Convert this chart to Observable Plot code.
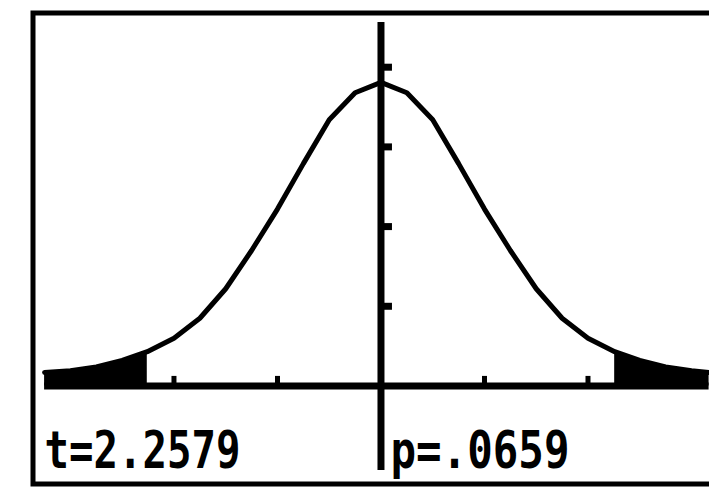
<!DOCTYPE html>
<html>
<head>
<meta charset="utf-8">
<script src="https://cdn.jsdelivr.net/npm/d3@7"></script>
<script src="https://cdn.jsdelivr.net/npm/@observablehq/plot@0.6"></script>
<style>
  html, body { margin: 0; padding: 0; background: #fff; }
  #chart svg { display: block; }
</style>
</head>
<body>
<div id="chart"></div>
<script>
// Calculator window
const windowX = [-3.25, 3.17];
const windowY = [-0.106, 0.456];

// t-distribution curve
const tValues = [-3.25, -3.0, -2.75, -2.5, -2.2579, -2.0, -1.75, -1.5, -1.25, -1.0, -0.75, -0.5, -0.25, 0,
                 0.25, 0.5, 0.75, 1.0, 1.25, 1.5, 1.75, 2.0, 2.2579, 2.5, 2.75, 3.0, 3.17];
const density = [0.017, 0.019, 0.024, 0.032, 0.043, 0.060, 0.085, 0.122, 0.170, 0.222, 0.279, 0.334, 0.368, 0.381,
                 0.368, 0.334, 0.279, 0.222, 0.170, 0.122, 0.085, 0.060, 0.043, 0.032, 0.024, 0.019, 0.017];

const tStat = 2.2579;
const xTicks = [-2, -1, 1, 2];
const yTicks = [0.1, 0.2, 0.3, 0.4];
const labels = ["t=2.2579", "p=.0659"];

const curve = tValues.map((t, i) => ({t, d: density[i]}));
const leftTail = curve.filter(p => p.t <= -tStat);
const rightTail = curve.filter(p => p.t >= tStat);

const chart = Plot.plot({
  width: 709,
  height: 487,
  margin: 0,
  x: {domain: [-3.676, 3.174], axis: null},
  y: {domain: [-0.1274, 0.4837], axis: null},
  marks: [
    Plot.frame({stroke: "#000", strokeWidth: 5, insetLeft: 32.5, insetTop: 12.5, insetBottom: 3.5, insetRight: -10}),
    Plot.areaY(leftTail, {x: "t", y1: 0, y2: "d", fill: "#000"}),
    Plot.areaY(rightTail, {x: "t", y1: 0, y2: "d", fill: "#000"}),
    Plot.line(curve, {x: "t", y: "d", stroke: "#000", strokeWidth: 5, strokeLinejoin: "miter"}),
    Plot.ruleY([0], {x1: windowX[0], x2: windowX[1], stroke: "#000", strokeWidth: 7}),
    Plot.ruleX([0], {y1: windowY[0], y2: windowY[1], stroke: "#000", strokeWidth: 7}),
    Plot.ruleX(xTicks, {y1: 0, y2: 0.012, stroke: "#000", strokeWidth: 5}),
    Plot.ruleY(yTicks, {x1: 0, x2: 0.111, stroke: "#000", strokeWidth: 7}),
    Plot.text([labels[0]], {x: windowX[0], y: -0.0822, text: d => d, textAnchor: "start",
      fontFamily: "DejaVu Sans Mono", fontWeight: "bold", fontSize: 52, fill: "#000"}),
    Plot.text([labels[1]], {x: 0.092, y: -0.0822, text: d => d, textAnchor: "start",
      fontFamily: "DejaVu Sans Mono", fontWeight: "bold", fontSize: 52, fill: "#000"})
  ]
});

const lengths = {"t=2.2579": 196, "p=.0659": 179};
chart.querySelectorAll("text").forEach(el => {
  const L = lengths[el.textContent];
  if (L) {
    el.setAttribute("textLength", L);
    el.setAttribute("lengthAdjust", "spacingAndGlyphs");
  }
});

document.getElementById("chart").appendChild(chart);
</script>
</body>
</html>
